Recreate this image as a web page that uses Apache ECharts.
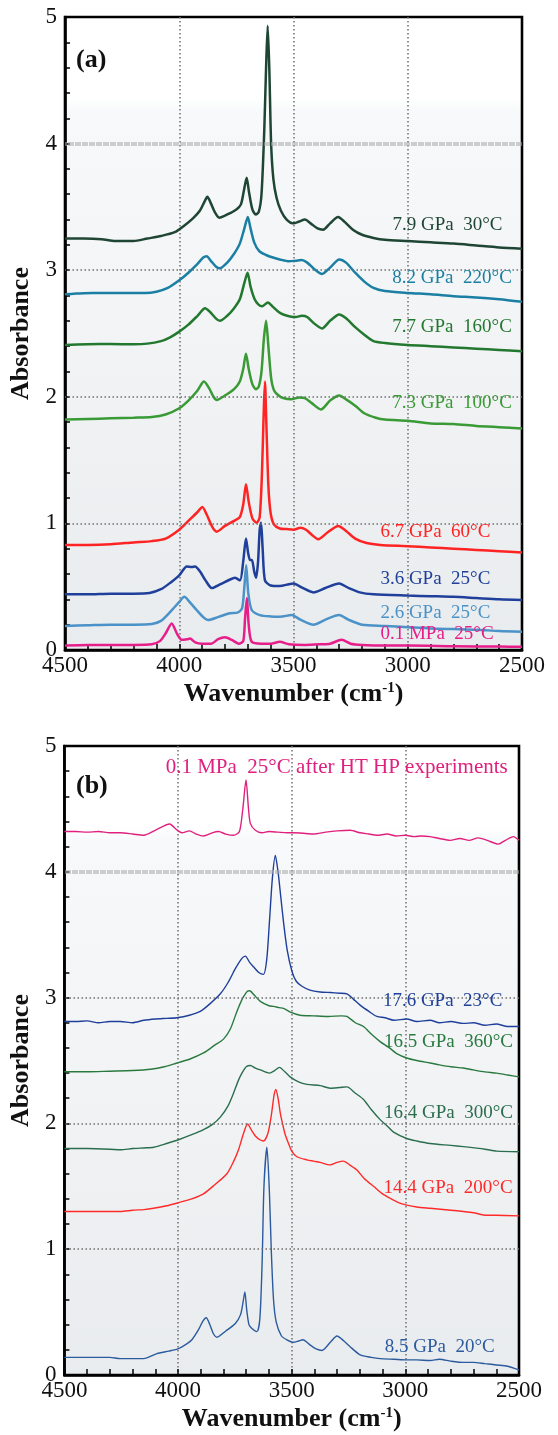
<!DOCTYPE html>
<html><head><meta charset="utf-8">
<script src="https://cdn.jsdelivr.net/npm/echarts@6/dist/echarts.min.js"></script>
<style>html,body{margin:0;padding:0;background:#fff}#c{width:558px;height:1435px}</style>
</head><body><div id="c"></div>
<script>
// ---------- Panel (a) spectra: [wavenumber cm-1, absorbance] ----------
const a_79GPa_30C = [[4500,3.25],[4420,3.25],[4340,3.245],[4280,3.23],[4200,3.23],[4140,3.25],[4080,3.27],[4020,3.30],[3980,3.35],[3940,3.41],[3910,3.47],[3890,3.54],[3877,3.58],[3862,3.53],[3845,3.46],[3825,3.415],[3790,3.44],[3750,3.48],[3730,3.52],[3718,3.62],[3705,3.73],[3695,3.62],[3680,3.48],[3665,3.44],[3652,3.46],[3640,3.6],[3628,4.1],[3620,4.6],[3613,4.93],[3606,4.6],[3598,4.0],[3588,3.72],[3574,3.57],[3555,3.47],[3530,3.40],[3500,3.37],[3475,3.385],[3450,3.40],[3425,3.37],[3395,3.33],[3370,3.32],[3340,3.37],[3305,3.42],[3275,3.38],[3240,3.32],[3200,3.28],[3150,3.255],[3100,3.24],[3000,3.23],[2900,3.22],[2800,3.21],[2700,3.195],[2600,3.18],[2500,3.17]];
const a_82GPa_220C = [[4500,2.81],[4450,2.815],[4380,2.82],[4300,2.82],[4200,2.82],[4150,2.82],[4100,2.83],[4050,2.86],[4000,2.92],[3960,2.98],[3920,3.05],[3895,3.10],[3880,3.11],[3860,3.07],[3840,3.03],[3822,3.015],[3790,3.06],[3760,3.13],[3735,3.21],[3715,3.33],[3700,3.42],[3688,3.33],[3672,3.22],[3650,3.15],[3620,3.12],[3590,3.10],[3560,3.085],[3520,3.07],[3490,3.075],[3465,3.08],[3440,3.06],[3410,3.01],[3375,2.97],[3340,3.02],[3300,3.085],[3270,3.06],[3230,2.98],[3190,2.91],[3150,2.86],[3100,2.835],[3000,2.82],[2900,2.81],[2800,2.795],[2700,2.785],[2600,2.77],[2500,2.75]];
const a_77GPa_160C = [[4500,2.41],[4400,2.415],[4300,2.417],[4200,2.415],[4140,2.42],[4080,2.44],[4040,2.47],[4000,2.515],[3960,2.57],[3920,2.64],[3887,2.70],[3865,2.67],[3840,2.62],[3822,2.60],[3790,2.64],[3760,2.70],[3735,2.77],[3715,2.90],[3701,2.98],[3688,2.87],[3670,2.77],[3654,2.73],[3638,2.715],[3612,2.745],[3590,2.71],[3565,2.67],[3545,2.65],[3515,2.635],[3490,2.63],[3464,2.64],[3440,2.63],[3410,2.58],[3375,2.54],[3340,2.60],[3300,2.65],[3270,2.62],[3230,2.55],[3190,2.49],[3150,2.44],[3100,2.425],[3000,2.41],[2900,2.40],[2800,2.39],[2700,2.38],[2600,2.37],[2500,2.36]];
const a_73GPa_100C = [[4500,1.82],[4400,1.825],[4300,1.83],[4200,1.835],[4120,1.84],[4060,1.86],[4000,1.91],[3960,1.97],[3920,2.05],[3892,2.12],[3870,2.07],[3850,2.00],[3836,1.975],[3800,2.01],[3760,2.06],[3735,2.12],[3720,2.22],[3708,2.34],[3696,2.22],[3680,2.10],[3665,2.06],[3652,2.08],[3640,2.2],[3630,2.45],[3620,2.60],[3610,2.40],[3598,2.15],[3585,2.05],[3565,2.01],[3545,1.99],[3510,1.98],[3475,1.995],[3450,1.99],[3420,1.95],[3380,1.90],[3340,1.97],[3300,2.01],[3270,1.98],[3230,1.93],[3190,1.87],[3140,1.835],[3100,1.82],[3000,1.81],[2900,1.79],[2800,1.785],[2700,1.77],[2600,1.76],[2500,1.75]];
const a_67GPa_60C = [[4500,0.83],[4400,0.83],[4300,0.835],[4200,0.85],[4120,0.86],[4060,0.88],[4000,0.95],[3960,1.02],[3920,1.09],[3899,1.13],[3880,1.07],[3855,0.97],[3836,0.935],[3800,0.98],[3760,1.02],[3735,1.05],[3720,1.15],[3708,1.31],[3696,1.17],[3680,1.04],[3661,1.005],[3648,1.05],[3638,1.4],[3630,1.9],[3625,2.12],[3619,1.8],[3610,1.3],[3600,1.08],[3585,0.99],[3560,0.96],[3530,0.955],[3500,0.95],[3470,0.965],[3445,0.95],[3420,0.91],[3392,0.875],[3350,0.93],[3304,0.98],[3270,0.94],[3230,0.88],[3180,0.845],[3120,0.83],[3000,0.82],[2900,0.81],[2800,0.80],[2700,0.79],[2600,0.78],[2500,0.77]];
const a_36GPa_25C = [[4500,0.44],[4400,0.44],[4300,0.445],[4200,0.445],[4130,0.45],[4080,0.48],[4040,0.53],[4000,0.59],[3967,0.66],[3945,0.655],[3931,0.66],[3909,0.62],[3885,0.55],[3858,0.49],[3820,0.52],[3780,0.555],[3756,0.57],[3734,0.55],[3720,0.7],[3708,0.88],[3698,0.76],[3690,0.71],[3682,0.71],[3672,0.62],[3664,0.57],[3655,0.7],[3648,0.95],[3642,1.005],[3635,0.8],[3625,0.55],[3600,0.51],[3560,0.505],[3520,0.52],[3500,0.525],[3460,0.49],[3413,0.455],[3360,0.49],[3300,0.525],[3260,0.49],[3210,0.455],[3150,0.44],[3000,0.43],[2900,0.425],[2800,0.42],[2700,0.41],[2600,0.40],[2500,0.395]];
const a_26GPa_25C = [[4500,0.19],[4400,0.195],[4300,0.20],[4200,0.20],[4120,0.205],[4080,0.23],[4040,0.30],[4000,0.38],[3978,0.42],[3955,0.38],[3924,0.316],[3895,0.26],[3873,0.237],[3830,0.26],[3778,0.29],[3745,0.295],[3725,0.33],[3715,0.5],[3707,0.67],[3698,0.45],[3683,0.316],[3647,0.276],[3600,0.265],[3559,0.263],[3508,0.276],[3470,0.24],[3413,0.20],[3360,0.24],[3300,0.276],[3260,0.24],[3200,0.20],[3100,0.19],[3000,0.18],[2900,0.17],[2800,0.165],[2700,0.16],[2600,0.15],[2500,0.145]];
const a_01MPa_25C = [[4500,0.035],[4400,0.04],[4300,0.04],[4200,0.04],[4120,0.045],[4085,0.07],[4060,0.13],[4033,0.21],[4010,0.13],[3989,0.08],[3965,0.085],[3953,0.09],[3930,0.06],[3900,0.05],[3860,0.05],[3830,0.085],[3800,0.10],[3770,0.08],[3740,0.05],[3720,0.07],[3712,0.25],[3704,0.41],[3696,0.2],[3683,0.065],[3640,0.05],[3600,0.05],[3560,0.065],[3520,0.045],[3450,0.04],[3380,0.045],[3340,0.05],[3289,0.08],[3250,0.05],[3200,0.04],[3100,0.035],[3000,0.035],[2800,0.03],[2600,0.027],[2500,0.026]];

// ---------- Panel (b) spectra ----------
const b_01MPa_after = [[4500,4.32],[4450,4.32],[4400,4.315],[4350,4.32],[4300,4.31],[4254,4.31],[4200,4.30],[4151,4.29],[4100,4.33],[4037,4.38],[4010,4.34],[3983,4.31],[3950,4.325],[3920,4.30],[3888,4.285],[3850,4.31],[3822,4.32],[3790,4.30],[3756,4.29],[3730,4.32],[3715,4.5],[3701,4.73],[3690,4.5],[3682,4.385],[3660,4.33],[3631,4.31],[3600,4.32],[3560,4.315],[3520,4.31],[3492,4.31],[3440,4.305],[3404,4.30],[3350,4.315],[3300,4.325],[3243,4.33],[3200,4.31],[3160,4.30],[3125,4.29],[3080,4.30],[3040,4.285],[3000,4.29],[2960,4.28],[2930,4.285],[2891,4.28],[2850,4.265],[2803,4.25],[2760,4.265],[2720,4.25],[2680,4.27],[2640,4.25],[2591,4.22],[2560,4.25],[2525,4.28],[2500,4.25]];
const b_176GPa_23C = [[4500,2.81],[4450,2.81],[4400,2.815],[4350,2.80],[4300,2.81],[4254,2.81],[4200,2.80],[4150,2.82],[4100,2.83],[4050,2.835],[4005,2.84],[3950,2.86],[3902,2.89],[3860,2.95],[3814,3.03],[3780,3.12],[3748,3.23],[3720,3.31],[3704,3.33],[3685,3.28],[3668,3.245],[3645,3.2],[3624,3.185],[3610,3.3],[3598,3.6],[3585,3.95],[3572,4.13],[3560,4.0],[3548,3.8],[3536,3.6],[3520,3.38],[3499,3.21],[3480,3.13],[3455,3.09],[3420,3.06],[3375,3.045],[3330,3.04],[3290,3.035],[3257,3.03],[3230,2.99],[3199,2.94],[3160,2.89],[3125,2.85],[3090,2.84],[3050,2.82],[2994,2.83],[2950,2.81],[2891,2.82],[2850,2.80],[2800,2.81],[2745,2.795],[2700,2.80],[2650,2.78],[2600,2.79],[2550,2.77],[2500,2.77]];
const b_165GPa_360C = [[4500,2.41],[4400,2.41],[4300,2.415],[4200,2.42],[4120,2.43],[4060,2.45],[4005,2.48],[3950,2.51],[3888,2.56],[3840,2.62],[3800,2.67],[3770,2.75],[3741,2.89],[3720,2.98],[3709,3.015],[3695,3.05],[3685,3.055],[3665,3.02],[3638,2.97],[3600,2.935],[3580,2.93],[3555,2.92],[3536,2.915],[3500,2.88],[3463,2.86],[3404,2.855],[3340,2.85],[3280,2.855],[3257,2.85],[3220,2.80],[3184,2.77],[3150,2.71],[3111,2.65],[3070,2.6],[3038,2.555],[2994,2.52],[2950,2.50],[2891,2.48],[2850,2.465],[2800,2.45],[2745,2.44],[2700,2.425],[2650,2.41],[2598,2.40],[2550,2.385],[2500,2.37]];
const b_164GPa_300C = [[4500,1.80],[4400,1.80],[4300,1.795],[4254,1.79],[4200,1.80],[4150,1.805],[4107,1.81],[4050,1.84],[3998,1.87],[3940,1.91],[3888,1.95],[3850,1.99],[3814,2.05],[3780,2.14],[3756,2.24],[3735,2.34],[3719,2.40],[3700,2.45],[3682,2.46],[3660,2.44],[3638,2.425],[3598,2.40],[3575,2.42],[3554,2.445],[3530,2.41],[3507,2.37],[3470,2.33],[3433,2.31],[3375,2.30],[3331,2.28],[3290,2.285],[3257,2.29],[3220,2.24],[3184,2.19],[3150,2.11],[3111,2.03],[3080,1.98],[3052,1.93],[2994,1.88],[2950,1.86],[2891,1.84],[2800,1.825],[2745,1.815],[2650,1.795],[2598,1.78],[2500,1.775]];
const b_144GPa_200C = [[4500,1.30],[4400,1.30],[4300,1.30],[4254,1.30],[4200,1.31],[4150,1.315],[4108,1.325],[4050,1.345],[3998,1.37],[3940,1.40],[3888,1.44],[3840,1.51],[3785,1.60],[3755,1.70],[3734,1.79],[3712,1.92],[3694,1.995],[3675,1.94],[3660,1.90],[3640,1.87],[3624,1.86],[3605,1.92],[3590,2.06],[3578,2.22],[3570,2.27],[3560,2.2],[3550,2.08],[3543,2.02],[3530,1.92],[3514,1.84],[3500,1.78],[3477,1.735],[3433,1.71],[3404,1.70],[3375,1.69],[3331,1.67],[3300,1.69],[3272,1.70],[3245,1.67],[3213,1.63],[3180,1.56],[3140,1.50],[3100,1.44],[3067,1.405],[3030,1.37],[2994,1.35],[2950,1.335],[2891,1.325],[2800,1.31],[2745,1.30],[2700,1.29],[2642,1.27],[2600,1.27],[2500,1.265]];
const b_85GPa_20C = [[4500,0.14],[4400,0.14],[4300,0.14],[4254,0.13],[4200,0.13],[4151,0.13],[4093,0.17],[4040,0.19],[3998,0.21],[3960,0.25],[3939,0.28],[3910,0.36],[3890,0.43],[3876,0.455],[3860,0.40],[3845,0.33],[3829,0.30],[3790,0.35],[3748,0.41],[3725,0.48],[3714,0.58],[3706,0.66],[3698,0.52],[3688,0.40],[3675,0.37],[3653,0.345],[3640,0.45],[3630,0.9],[3622,1.5],[3609,1.81],[3598,1.45],[3590,1.0],[3580,0.6],[3568,0.42],[3545,0.31],[3521,0.28],[3492,0.26],[3470,0.27],[3451,0.28],[3420,0.24],[3395,0.21],[3367,0.195],[3330,0.26],[3301,0.31],[3270,0.27],[3243,0.225],[3199,0.16],[3150,0.14],[3111,0.13],[3050,0.125],[2994,0.12],[2950,0.12],[2891,0.115],[2850,0.125],[2800,0.11],[2745,0.10],[2700,0.10],[2650,0.09],[2598,0.08],[2550,0.07],[2500,0.04]];

// ---------- names / labels ----------
const seriesA = [a_79GPa_30C, a_82GPa_220C, a_77GPa_160C, a_73GPa_100C, a_67GPa_60C, a_36GPa_25C, a_26GPa_25C, a_01MPa_25C];
const namesA = ['7.9 GPa  30°C','8.2 GPa  220°C','7.7 GPa  160°C','7.3 GPa  100°C','6.7 GPa  60°C','3.6 GPa  25°C','2.6 GPa  25°C','0.1 MPa  25°C'];
const seriesB = [b_01MPa_after, b_176GPa_23C, b_165GPa_360C, b_164GPa_300C, b_144GPa_200C, b_85GPa_20C];
const namesB = ['0.1 MPa  25°C after HT HP experiments','17.6 GPa  23°C','16.5 GPa  360°C','16.4 GPa  300°C','14.4 GPa  200°C','8.5 GPa  20°C'];
const gridValues = [1, 2, 3];
const bandValue = 4;

// label anchors (data coordinates) and styles kept apart from values
const labelAtA = [[2826,3.36],[2806,2.94],[2806,2.55],[2806,1.95],[2879,0.935],[2879,0.56],[2879,0.29],[2872,0.126]];
const labelAtB = [[3302,4.83],[2836,2.97],[2810,2.65],[2810,2.08],[2812,1.49],[2849,0.225]];
const colorsA = ['#1f4634','#1a7fa3','#23782f','#399a36','#ff2424','#1f3f9a','#4a92c8','#e61e8a'];
const colorsB = ['#e0207e','#1f3f9a','#2a7a40','#2a6e4e','#ff2a2a','#2b5a9e'];

const serif = '"Liberation Serif","Times New Roman",serif';

function lineSeries(data, name, color, at, idx, width, fs, extra) {
  const s = {
    type: 'line', name: name, xAxisIndex: idx, yAxisIndex: idx, data: data,
    symbol: 'none', showSymbol: false, smooth: 0.25, silent: true,
    lineStyle: { color: color, width: width }, itemStyle: { color: color },
    markPoint: {
      symbol: 'circle', symbolSize: 0, silent: true, animation: false,
      data: [{ coord: at, value: name }],
      label: { show: true, position: 'inside', formatter: name, color: color, fontSize: fs, fontFamily: serif }
    }
  };
  return Object.assign(s, extra || {});
}

function hLines() {
  const d = gridValues.map(v => ({ yAxis: v, lineStyle: { color: '#6f6f6f', width: 1.5, type: [1.5, 2.5] } }));
  d.push({ yAxis: bandValue, lineStyle: { color: 'rgba(170,170,170,0.55)', width: 4, type: [6, 1] } });
  return { symbol: 'none', silent: true, animation: false, label: { show: false }, data: d };
}

const bg = { type: 'linear', x: 0, y: 0, x2: 0, y2: 1, colorStops: [
  { offset: 0, color: '#ffffff' }, { offset: 0.13, color: '#ffffff' },
  { offset: 0.15, color: '#f8f9fa' }, { offset: 1, color: '#e9ecee' } ] };

function xAxis(idx) {
  return {
    type: 'value', gridIndex: idx, min: 2500, max: 4500, interval: 500, inverse: true,
    axisLine: { show: true, lineStyle: { color: '#000', width: 2.6 } },
    axisTick: { show: true, inside: true, length: 6, lineStyle: { color: '#000', width: 1.5 } },
    minorTick: { show: true, splitNumber: 5, length: 6, lineStyle: { color: '#000', width: 1.5 } },
    axisLabel: { color: '#111', fontSize: 23, fontFamily: serif, margin: 4, formatter: v => String(v) },
    splitLine: { show: true, showMinLine: false, showMaxLine: false, lineStyle: { color: '#6f6f6f', width: 1.5, type: [1.5, 2.5] } },
    name: '{a|Wavenumber (cm}{s|-1}{a|)}', nameLocation: 'middle', nameGap: 31,
    nameTextStyle: { rich: {
      a: { fontSize: 26, fontWeight: 'bold', fontFamily: serif, color: '#111' },
      s: { fontSize: 15, fontWeight: 'bold', fontFamily: serif, color: '#111', verticalAlign: 'top', padding: [0, 0, 12, 0] } } }
  };
}
function yAxis(idx) {
  return {
    type: 'value', gridIndex: idx, min: 0, max: 5, interval: 1,
    axisLine: { show: true, lineStyle: { color: '#000', width: 2.6 } },
    axisTick: { show: true, inside: true, length: 5, lineStyle: { color: '#000', width: 1.5 } },
    minorTick: { show: true, splitNumber: 5, length: 5, lineStyle: { color: '#000', width: 1.5 } },
    axisLabel: { color: '#111', fontSize: 23, fontFamily: serif, margin: 8 },
    splitLine: { show: false },
    name: 'Absorbance', nameLocation: 'middle', nameGap: 22,
    nameTextStyle: { fontSize: 26, fontWeight: 'bold', fontFamily: serif, color: '#111' }
  };
}

const series = [];
seriesA.forEach((d, i) => series.push(lineSeries(d, namesA[i], colorsA[i], labelAtA[i], 0, 2.5, 19, i === 0 ? { markLine: hLines() } : null)));
seriesB.forEach((d, i) => series.push(lineSeries(d, namesB[i], colorsB[i], labelAtB[i], 1, 1.4, i === 0 ? 21 : 19, i === 0 ? { markLine: hLines() } : null)));

const chart = echarts.init(document.getElementById('c'), null, { renderer: 'canvas' });
chart.setOption({
  animation: false,
  backgroundColor: '#ffffff',
  grid: [
    { left: 65, top: 17, width: 457, height: 633, show: true, borderColor: '#000', borderWidth: 2.6, backgroundColor: bg },
    { left: 64, top: 746, width: 455, height: 629, show: true, borderColor: '#000', borderWidth: 2.6, backgroundColor: bg }
  ],
  xAxis: [xAxis(0), xAxis(1)],
  yAxis: [yAxis(0), yAxis(1)],
  graphic: [
    { type: 'text', left: 76, top: 47, style: { text: '(a)', fontSize: 26, fontWeight: 'bold', fontFamily: serif, fill: '#111' } },
    { type: 'text', left: 76, top: 773, style: { text: '(b)', fontSize: 26, fontWeight: 'bold', fontFamily: serif, fill: '#111' } }
  ],
  series: series
});
</script></body></html>
